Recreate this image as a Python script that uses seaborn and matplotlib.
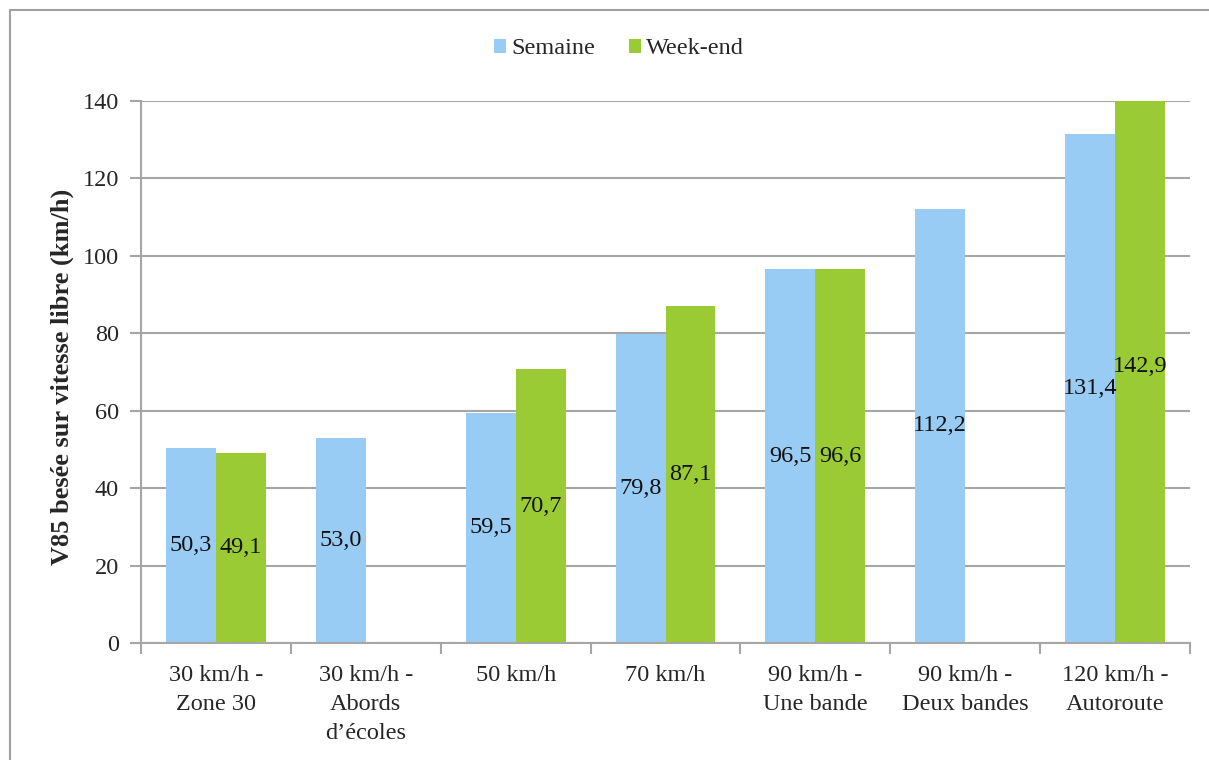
import numpy as np
import pandas as pd
import seaborn as sns
import matplotlib.pyplot as plt
from matplotlib.lines import Line2D
from matplotlib.patches import Patch

categories = ["30 km/h -\nZone 30", "30 km/h -\nAbords\nd\u2019\u00e9coles", "50 km/h", "70 km/h",
              "90 km/h -\nUne bande", "90 km/h -\nDeux bandes", "120 km/h -\nAutoroute"]
semaine = [50.3, 53.0, 59.5, 79.8, 96.5, 112.2, 131.4]
week_end = [49.1, np.nan, 70.7, 87.1, 96.6, np.nan, 142.9]
series_names = ["Semaine", "Week-end"]
colors = ["#99CCF5", "#9ACB34"]
y_ticks = [0, 20, 40, 60, 80, 100, 120, 140]

df = pd.DataFrame({
    "cat": categories * 2,
    "serie": [series_names[0]] * len(categories) + [series_names[1]] * len(categories),
    "v": semaine + week_end,
})

sns.set_style("white")
plt.rcParams["font.family"] = ["Liberation Serif", "DejaVu Serif"]
FS = 17.5

fig = plt.figure(figsize=(12.09, 7.6), dpi=100)
ax = fig.add_axes([141 / 1209, 1 - 643 / 760, (1190 - 141) / 1209, (643 - 101) / 760])

sns.barplot(data=df, x="cat", y="v", hue="serie", order=categories,
            hue_order=series_names, palette=colors, width=0.667,
            saturation=1, ax=ax, legend=False, linewidth=0, errorbar=None)

ax.set_ylim(0, 140)
ax.set_xlim(-0.5, len(categories) - 0.5)
ax.set_yticks(y_ticks)
ax.set_yticklabels([str(t) for t in y_ticks], fontsize=FS)
ax.set_axisbelow(True)
ax.yaxis.grid(True, color="#A6A6A6", linewidth=1.5)
ax.xaxis.grid(False)

for s in ["top", "right"]:
    ax.spines[s].set_visible(False)
for s in ["left", "bottom"]:
    ax.spines[s].set_color("#A6A6A6")
    ax.spines[s].set_linewidth(1.5)

ax.tick_params(axis="y", which="major", length=8, width=1.5, color="#A6A6A6",
               direction="out", left=True, pad=8)
ax.set_xticks(range(len(categories)))
ax.set_xticklabels(categories, fontsize=FS, linespacing=1.5, va="top")
ax.tick_params(axis="x", which="major", length=0, pad=16)
ax.set_xticks(np.arange(-0.5, len(categories), 1.0), minor=True)
ax.tick_params(axis="x", which="minor", length=8, width=1.5, color="#A6A6A6",
               direction="out", bottom=True)

ax.set_xlabel("")
ax.set_ylabel("V85 bes\u00e9e sur vitesse libre (km/h)", fontsize=19,
              fontweight="bold", va="center")
ax.yaxis.set_label_coords((62 - 141) / 1049, (643 - 377) / 542)

# value labels in the middle of each bar (bars exist only for present values)
for container, vals in zip(ax.containers, [semaine, week_end]):
    present = [v for v in vals if not np.isnan(v)]
    for rect, v in zip(container, present):
        x = rect.get_x() + rect.get_width() / 2
        ax.text(x, v / 2, f"{v:.1f}".replace(".", ","), ha="center", va="center",
                fontsize=FS, color="#111111")

handles = [Patch(facecolor=c, edgecolor="none") for c in colors]
fig.legend(handles, series_names, loc="center", bbox_to_anchor=(619 / 1209, 1 - 49 / 760),
           ncol=2, frameon=False, fontsize=FS, handlelength=0.5, handleheight=0.5,
           handletextpad=0.2, columnspacing=1.4)

# chart area frame
fig.add_artist(Line2D([10 / 1209, 10 / 1209], [0, 1 - 10 / 760], transform=fig.transFigure,
                      color="#A0A0A0", linewidth=1.5))
fig.add_artist(Line2D([10 / 1209, 1], [1 - 10 / 760, 1 - 10 / 760], transform=fig.transFigure,
                      color="#A0A0A0", linewidth=1.5))

fig.savefig("out.png", dpi=100)
